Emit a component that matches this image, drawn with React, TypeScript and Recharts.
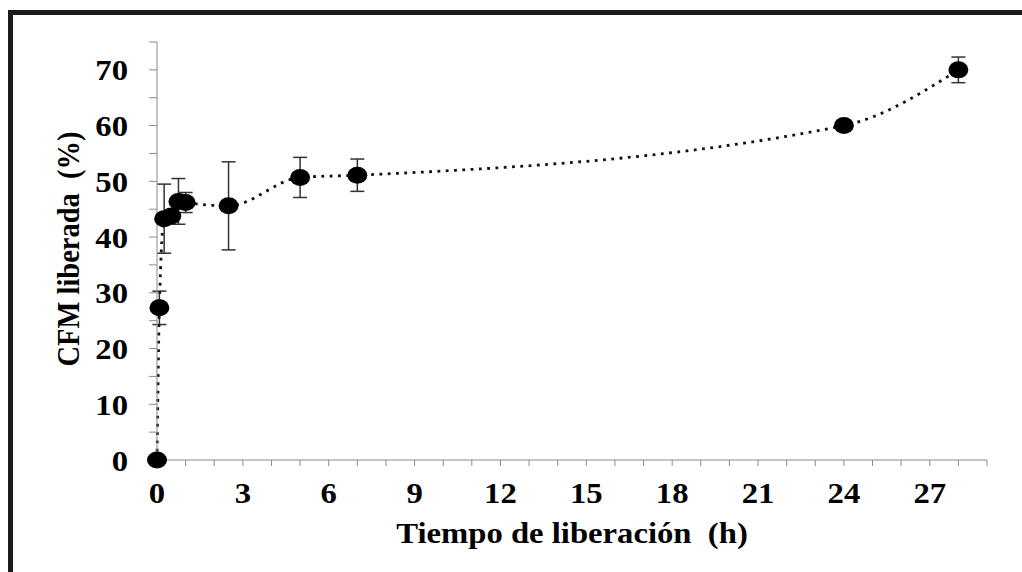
import { LineChart, Line, XAxis, YAxis, ErrorBar } from 'recharts';

// release time (h), CFM released (%), standard deviation
const hours = [0, 0.083, 0.25, 0.5, 0.75, 1, 2.5, 5, 7, 24, 28];
const released = [0, 27.3, 43.3, 43.8, 46.4, 46.2, 45.6, 50.7, 51.1, 60.0, 70.0];
const deviation = [0, 3, 6.2, 1, 4.1, 1.8, 7.9, 3.6, 2.9, 0.8, 2.3];

const xTicks = [0, 1, 2, 3, 4, 5, 6, 7, 8, 9, 10, 11, 12, 13, 14, 15, 16, 17, 18, 19, 20, 21, 22, 23, 24, 25, 26, 27, 28, 29];
const yTicks = [0, 5, 10, 15, 20, 25, 30, 35, 40, 45, 50, 55, 60, 65, 70, 75];

const data = hours.map((h, i) => ({ h, pct: released[i], sd: deviation[i] }));

const font = "'Liberation Serif', 'Times New Roman', serif";
const textStyle = { fontFamily: font, fontWeight: 700, fontSize: 30, fill: '#000' };
const axisGray = '#8a8a8a';
const stretch = 1.09; // the source picture is a bit wider than tall

const Marker = (props: any) => {
  const { cx, cy, index } = props;
  if (cx == null || cy == null) return <g key={index} />;
  return <ellipse key={index} cx={cx} cy={cy} rx={10} ry={8.5} fill="#000" />;
};

const XTick = ({ x, y, payload }: any) => {
  const v = payload.value;
  if (v % 3 !== 0 || v > 27) return <g />;
  return (
    <text transform={`translate(${x},${y}) scale(${stretch},1)`} textAnchor="middle" dy="0.71em" style={textStyle}>
      {v}
    </text>
  );
};

const YTick = ({ x, y, payload }: any) => {
  const v = payload.value;
  if (v % 10 !== 0 || v > 70) return <g />;
  return (
    <text transform={`translate(${x},${y}) scale(${stretch},1)`} textAnchor="end" dy="0.35em" style={textStyle}>
      {v}
    </text>
  );
};

export default function App() {
  return (
    <div style={{ position: 'fixed', left: 0, top: 0, width: 1022, height: 572, background: '#fff' }}>
      <LineChart width={1022} height={572} data={data} margin={{ top: 42, right: 35, left: 0, bottom: 0 }}>
        <XAxis
          dataKey="h"
          type="number"
          domain={[0, 29]}
          ticks={xTicks}
          interval={0}
          height={112}
          stroke={axisGray}
          tickLine={{ stroke: axisGray }}
          tickSize={6}
          tickMargin={16}
          tick={<XTick />}
          label={{
            content: () => (
              <text transform={`translate(572,543) scale(${stretch},1)`} textAnchor="middle" style={textStyle}>
                Tiempo de liberación{'\u00a0\u00a0'}(h)
              </text>
            ),
          }}
        />
        <YAxis
          type="number"
          domain={[0, 75]}
          ticks={yTicks}
          interval={0}
          width={157}
          stroke={axisGray}
          tickLine={{ stroke: axisGray }}
          tickSize={8}
          tickMargin={21}
          tick={<YTick />}
          label={{
            content: () => (
              <text
                transform={`translate(68,249) rotate(-90) scale(1,${stretch})`}
                textAnchor="middle"
                dy="0.35em"
                style={{ ...textStyle, fontSize: 28.5 }}
              >
                CFM liberada{'\u00a0\u00a0'}(%)
              </text>
            ),
          }}
        />
        <Line
          dataKey="pct"
          type="monotone"
          stroke="#111"
          strokeWidth={2.8}
          strokeDasharray="2.8 5.5"
          dot={Marker}
          activeDot={false}
          isAnimationActive={false}
        >
          <ErrorBar dataKey="sd" width={7} stroke="#333" strokeWidth={1.5} direction="y" />
        </Line>
      </LineChart>
      <div
        style={{
          position: 'absolute',
          left: 8,
          top: 10,
          width: 1014,
          height: 562,
          borderLeft: '5px solid #1c1c1c',
          borderTop: '5px solid #1c1c1c',
          boxSizing: 'border-box',
          pointerEvents: 'none',
        }}
      />
    </div>
  );
}
